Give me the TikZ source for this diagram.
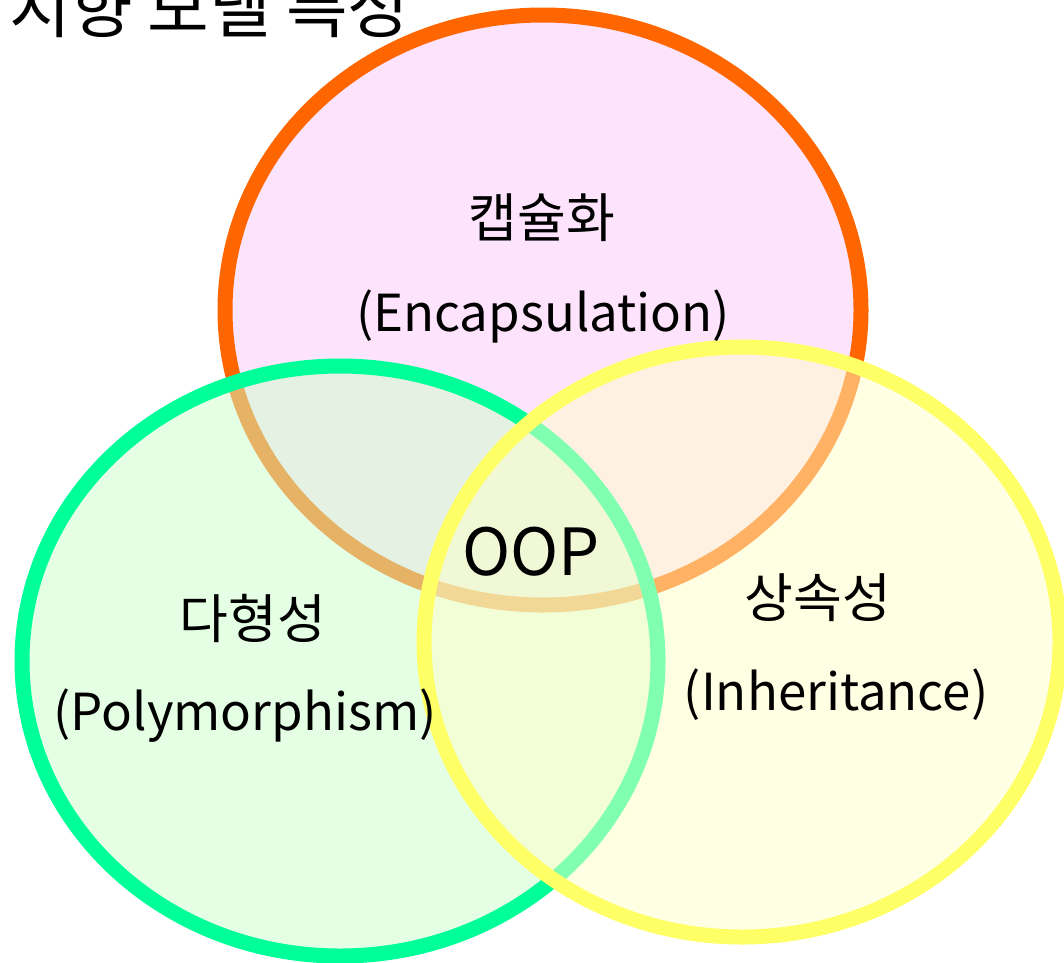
\documentclass[tikz,border=0pt]{standalone}
\usepackage{fontspec}
\setmainfont{Noto Sans CJK KR}
\usepackage{tikz}

\definecolor{encfill}{RGB}{253,228,252}
\definecolor{encline}{RGB}{255,102,0}
\definecolor{polyfill}{RGB}{204,255,204}
\definecolor{polyline}{RGB}{0,255,153}
\definecolor{inhfill}{RGB}{255,255,200}
\definecolor{inhline}{RGB}{255,255,102}

\begin{document}
\begin{tikzpicture}[
                        x=1pt,
                        y=-1pt,
                        line width=15pt,
                        label/.style={font=\fontsize{51}{56}\selectfont, inner sep=0pt},
                        hangul/.style={font=\fontsize{53}{58}\selectfont, inner sep=0pt}
                    ]
                    \tikzstyle{set shape}=[x radius=318pt, y radius=295pt]

                    \useasboundingbox (0,0) rectangle (1064,962);

                    % the three sets, drawn one over the other
                    \draw[fill=encfill, draw=encline]
                        (543,310) ellipse [set shape];
                    \draw[fill=polyfill, fill opacity=0.5, draw=polyline, draw opacity=1]
                        (340,661) ellipse [set shape];
                    \draw[fill=inhfill, fill opacity=0.5, draw=inhline, draw opacity=1]
                        (742,642) ellipse [set shape];

                    \node[hangul, anchor=base west, font=\fontsize{67}{72}\selectfont] (title) at (2,32)
                        {지향 모델 특성};

                    \node[hangul] (enc)   at (542,218) {캡슐화};
                    \node[label]  (encen) at (543,316) {(Encapsulation)};
                    \node[hangul] (poly)   at (253,618) {다형성};
                    \node[label]  (polyen) at (245,716) {(Polymorphism)};
                    \node[hangul] (inh)   at (818,598) {상속성};
                    \node[label]  (inhen) at (836,695) {(Inheritance)};
                    \node[label, font=\fontsize{65}{70}\selectfont] (oop) at (531,552) {OOP};
                \end{tikzpicture}
\end{document}
